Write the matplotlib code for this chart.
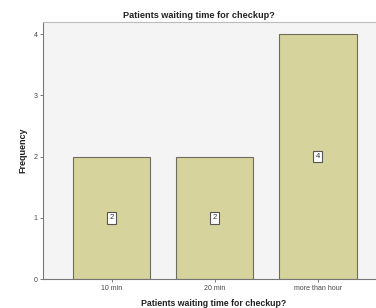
import matplotlib
matplotlib.use("Agg")
import matplotlib.pyplot as plt

plt.rcParams["font.family"] = ["Liberation Sans", "DejaVu Sans"]

categories = ["10 min", "20 min", "more than hour"]
counts = [2, 2, 4]
yticks = [0, 1, 2, 3, 4]

fig = plt.figure(figsize=(3.76, 3.08), dpi=100)
fig.patch.set_facecolor("white")
ax = fig.add_axes([43/376, 1-279/308, 343.5/376, 257/308])
ax.set_facecolor("#f4f4f4")
x = list(range(len(categories)))
bars = ax.bar(x, counts, width=0.75, color="#d7d39c", edgecolor="#6e6e5e", linewidth=0.8, zorder=2)
for xi, c in zip(x, counts):
    ax.text(xi, c/2, str(c), ha="center", va="center", fontsize=5.5, color="#333333",
            bbox=dict(boxstyle="square,pad=0.3", facecolor="white", edgecolor="#555555", linewidth=0.8), zorder=3)
ax.set_xlim(-0.665, 2.665)
ax.set_ylim(0, 4.196)
ax.set_yticks(yticks)
ax.set_yticklabels([str(v) for v in yticks])
ax.set_xticks(x)
ax.set_xticklabels(categories)
ax.tick_params(axis="both", labelsize=5, labelcolor="#444444", color="#666666", length=2.5, width=0.6, pad=1.5)
for s in ["left", "bottom"]:
    ax.spines[s].set_color("#777777")
    ax.spines[s].set_linewidth(0.8)
ax.spines["top"].set_color("#bbbbbb")
ax.spines["right"].set_visible(False)
fig.text(199/376, 1-15/308, "Patients waiting time for checkup?", ha="center", va="center", fontsize=6.6, fontweight="bold", color="#222222")
fig.text(214/376, 1-303.5/308, "Patients waiting time for checkup?", ha="center", va="center", fontsize=6.3, fontweight="bold", color="#222222")
fig.text(23/376, 1-150/308, "Frequency", ha="center", va="center", rotation=90, fontsize=6.5, fontweight="bold", color="#222222")
fig.savefig("out.png", dpi=100, facecolor="white")
